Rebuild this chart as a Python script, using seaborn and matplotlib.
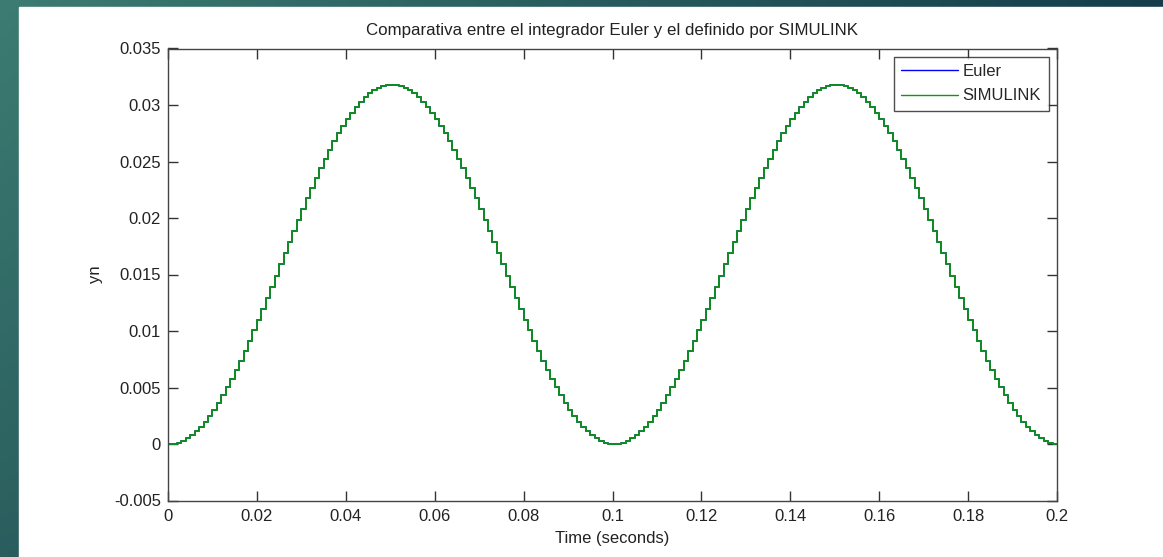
import numpy as np
import matplotlib
matplotlib.use("Agg")
import matplotlib.pyplot as plt
import seaborn as sns
import pandas as pd
from matplotlib.ticker import FuncFormatter, FixedLocator

sns.set_theme(style="white")
plt.rcParams['font.family'] = ['Liberation Sans', 'DejaVu Sans']

# Sampled output (step = 0.001 s), read from the staircase
t_values = [round(k * 0.001, 3) for k in range(201)]
yn_values = [
    0.00000, 0.00003, 0.00013, 0.00028, 0.00050, 0.00078, 0.00112, 0.00151, 0.00197, 0.00248,
    0.00304, 0.00365, 0.00431, 0.00502, 0.00576, 0.00655, 0.00738, 0.00824, 0.00913, 0.01005,
    0.01099, 0.01195, 0.01292, 0.01391, 0.01490, 0.01590, 0.01690, 0.01789, 0.01888, 0.01985,
    0.02081, 0.02175, 0.02267, 0.02356, 0.02442, 0.02525, 0.02604, 0.02678, 0.02749, 0.02815,
    0.02876, 0.02932, 0.02983, 0.03029, 0.03068, 0.03102, 0.03130, 0.03152, 0.03168, 0.03177,
    0.03180, 0.03177, 0.03168, 0.03152, 0.03130, 0.03102, 0.03068, 0.03029, 0.02983, 0.02932,
    0.02876, 0.02815, 0.02749, 0.02678, 0.02604, 0.02525, 0.02442, 0.02356, 0.02267, 0.02175,
    0.02081, 0.01985, 0.01888, 0.01789, 0.01690, 0.01590, 0.01490, 0.01391, 0.01292, 0.01195,
    0.01099, 0.01005, 0.00913, 0.00824, 0.00738, 0.00655, 0.00576, 0.00502, 0.00431, 0.00365,
    0.00304, 0.00248, 0.00197, 0.00151, 0.00112, 0.00078, 0.00050, 0.00028, 0.00013, 0.00003,
    0.00000, 0.00003, 0.00013, 0.00028, 0.00050, 0.00078, 0.00112, 0.00151, 0.00197, 0.00248,
    0.00304, 0.00365, 0.00431, 0.00502, 0.00576, 0.00655, 0.00738, 0.00824, 0.00913, 0.01005,
    0.01099, 0.01195, 0.01292, 0.01391, 0.01490, 0.01590, 0.01690, 0.01789, 0.01888, 0.01985,
    0.02081, 0.02175, 0.02267, 0.02356, 0.02442, 0.02525, 0.02604, 0.02678, 0.02749, 0.02815,
    0.02876, 0.02932, 0.02983, 0.03029, 0.03068, 0.03102, 0.03130, 0.03152, 0.03168, 0.03177,
    0.03180, 0.03177, 0.03168, 0.03152, 0.03130, 0.03102, 0.03068, 0.03029, 0.02983, 0.02932,
    0.02876, 0.02815, 0.02749, 0.02678, 0.02604, 0.02525, 0.02442, 0.02356, 0.02267, 0.02175,
    0.02081, 0.01985, 0.01888, 0.01789, 0.01690, 0.01590, 0.01490, 0.01391, 0.01292, 0.01195,
    0.01099, 0.01005, 0.00913, 0.00824, 0.00738, 0.00655, 0.00576, 0.00502, 0.00431, 0.00365,
    0.00304, 0.00248, 0.00197, 0.00151, 0.00112, 0.00078, 0.00050, 0.00028, 0.00013, 0.00003,
    0.00000,
]
series_names = ["Euler", "SIMULINK"]
series_colors = ["#0000ff", "#129612"]
x_ticks = [0, 0.02, 0.04, 0.06, 0.08, 0.1, 0.12, 0.14, 0.16, 0.18, 0.2]
y_ticks = [-0.005, 0, 0.005, 0.01, 0.015, 0.02, 0.025, 0.03, 0.035]
title_text = "Comparativa entre el integrador Euler y el definido por SIMULINK"
x_label = "Time (seconds)"
y_label = "yn"

W, H = 1163, 557
fig = plt.figure(figsize=(W / 100, H / 100), dpi=100)
fig.patch.set_facecolor("white")

# Slide background (teal gradient frame)
bg = fig.add_axes([0, 0, 1, 1], zorder=-10)
bg.set_axis_off()
gx = np.linspace(0, 1, 256)[None, :]
gy = np.linspace(0, 1, 256)[:, None]
c_tl = np.array([0x3c, 0x7c, 0x72]) / 255
c_tr = np.array([0x15, 0x3d, 0x4b]) / 255
c_bl = np.array([0x2a, 0x5e, 0x5e]) / 255
c_br = np.array([0x12, 0x35, 0x42]) / 255
img = ((1 - gy)[..., None] * ((1 - gx)[..., None] * c_tl + gx[..., None] * c_tr)
       + gy[..., None] * ((1 - gx)[..., None] * c_bl + gx[..., None] * c_br))
bg.imshow(img, extent=[0, W, H, 0], aspect="auto")
bg.add_patch(plt.Rectangle((19, 7), W - 19, H - 7, color="white"))
bg.set_xlim(0, W)
bg.set_ylim(H, 0)

ax = fig.add_axes([168 / W, 1 - 500.5 / H, (1057 - 168) / W, (500.5 - 48.5) / H])
ax.set_facecolor("white")

df = pd.DataFrame({"t": t_values + t_values,
                   "yn": yn_values + yn_values,
                   "serie": [series_names[0]] * len(t_values) + [series_names[1]] * len(t_values)})
sns.lineplot(data=df, x="t", y="yn", hue="serie", palette=dict(zip(series_names, series_colors)),
             drawstyle="steps-post", linewidth=1.3, ax=ax, legend=True, estimator=None, sort=False)

ax.set_xlim(0, 0.2)
ax.set_ylim(-0.005, 0.035)
fmt = FuncFormatter(lambda v, p: ("%g" % round(v, 4)))
ax.xaxis.set_major_locator(FixedLocator(x_ticks))
ax.yaxis.set_major_locator(FixedLocator(y_ticks))
ax.xaxis.set_major_formatter(fmt)
ax.yaxis.set_major_formatter(fmt)
ax.tick_params(direction="in", length=7, width=1, color="#333333", labelsize=12,
               labelcolor="#222222", top=True, right=True, bottom=True, left=True)
ax.tick_params(axis="x", pad=6)
ax.tick_params(axis="y", pad=5)
for s in ax.spines.values():
    s.set_color("#444444")
    s.set_linewidth(1.0)
    s.set_visible(True)

ax.set_title(title_text, fontsize=12.2, color="#222222", pad=10)
ax.set_xlabel(x_label, fontsize=12, color="#222222", labelpad=5)
ax.set_ylabel(y_label, fontsize=12, color="#222222", labelpad=8)

leg = ax.legend(loc="upper right", fontsize=12, frameon=True, fancybox=False,
                edgecolor="#222222", borderaxespad=0.5, handlelength=3.4, labelspacing=0.55,
                borderpad=0.45, handletextpad=0.3)
leg.get_frame().set_linewidth(1.0)
for h in leg.get_lines():
    h.set_linewidth(1.0)

fig.savefig("out.png", dpi=100)
